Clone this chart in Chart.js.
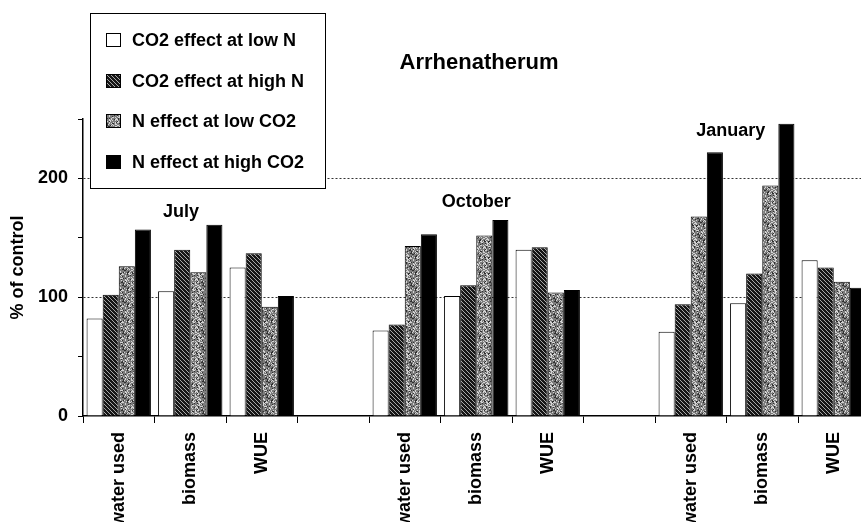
<!DOCTYPE html>
<html>
<head>
<meta charset="utf-8">
<script src="https://cdn.jsdelivr.net/npm/chart.js@4"></script>
<style>
body{margin:0;background:#fff;overflow:hidden}
</style>
</head>
<body>
<canvas id="chart" width="875" height="522"></canvas>
<script>
// data
const categories = ['water used','biomass','WUE','','water used','biomass','WUE','','water used','biomass','WUE']
const co2LowN  = [82,105,125,null,72,101,140,null,71,95,131]
const co2HighN = [102,140,137,null,77,110,142,null,94,120,125]
const nLowCO2  = [126,121,92,null,143,152,104,null,168,194,113]
const nHighCO2 = [157,161,101,null,153,165,106,null,222,246,108]
const seriesNames = ['CO2 effect at low N','CO2 effect at high N','N effect at low CO2','N effect at high CO2']
const yTicks = [0,100,200]
const months = ['July','October','January']
const monthCat = [0.87,5,8.56]
const monthVal = [172,180,240]
const chartTitle = 'Arrhenatherum'

const fam = '"Liberation Sans", Arial, sans-serif'
const ctx = document.getElementById('chart').getContext('2d')

// hatched fill
function hatch(){
    let c = document.createElement('canvas'); c.width = 8; c.height = 8
    let g = c.getContext('2d')
    g.fillStyle = '#161616'; g.fillRect(0,0,8,8)
    g.strokeStyle = '#a8a8a8'; g.lineWidth = 1
    for(let k = -8; k <= 8; k += 4){
        g.beginPath(); g.moveTo(k,0); g.lineTo(k+8,8); g.stroke()
    }
    return ctx.createPattern(c,'repeat')
}
// speckled fill
function speckle(){
    let c = document.createElement('canvas'); c.width = 16; c.height = 16
    let g = c.getContext('2d')
    g.fillStyle = '#7c7c7c'; g.fillRect(0,0,16,16)
    for(let i = 0; i < 16; i++){
        for(let j = 0; j < 16; j++){
            let v = (((i*73856093) ^ (j*19349663)) >>> 0) % 11
            if(v < 2){ g.fillStyle = '#303030'; g.fillRect(i,j,1,1) }
            else if(v < 5){ g.fillStyle = '#d4d4d4'; g.fillRect(i,j,1,1) }
        }
    }
    return ctx.createPattern(c,'repeat')
}

const decor = {
    id: 'decor',
    afterDraw(chart){
        const g = chart.ctx, xs = chart.scales.x, ys = chart.scales.y
        g.save()
        g.fillStyle = '#000'; g.textAlign = 'center'; g.textBaseline = 'middle'
        g.font = 'bold 22px ' + fam
        g.fillText(chartTitle, 479, 63)
        g.font = 'bold 18px ' + fam
        months.forEach((m,i) => g.fillText(m, xs.getPixelForValue(monthCat[i]), ys.getPixelForValue(monthVal[i])))
        // legend box
        g.fillStyle = '#fff'; g.fillRect(90,13,235,175)
        g.strokeStyle = '#000'; g.lineWidth = 1; g.strokeRect(90.5,13.5,235,175)
        g.textAlign = 'left'
        chart.data.datasets.forEach((d,i) => {
            let y = Math.round(40 + i*40.7)
            g.fillStyle = d.backgroundColor; g.fillRect(106, y-7, 15, 14)
            g.strokeRect(106.5, y-6.5, 14, 13)
            g.fillStyle = '#000'; g.fillText(d.label, 132, y+1)
        })
        g.restore()
    }
}

new Chart(ctx, {
    type: 'bar',
    data: {
        labels: categories,
        datasets: [
            {label: seriesNames[0], data: co2LowN, backgroundColor: '#fff'},
            {label: seriesNames[1], data: co2HighN, backgroundColor: hatch()},
            {label: seriesNames[2], data: nLowCO2, backgroundColor: speckle()},
            {label: seriesNames[3], data: nHighCO2, backgroundColor: '#000'}
        ]
    },
    options: {
        responsive: false,
        animation: false,
        devicePixelRatio: 1,
        layout: {padding: {left: 0, right: 5.5, top: 119, bottom: 0}},
        datasets: {bar: {borderColor: '#000', borderWidth: 1, categoryPercentage: 0.9, barPercentage: 1}},
        plugins: {legend: {display: false}, tooltip: {enabled: false}},
        scales: {
            x: {
                grid: {display: true, drawOnChartArea: false, drawTicks: true, tickLength: 7, tickColor: '#000', offset: true},
                border: {color: '#000', width: 1.5},
                ticks: {color: '#000', font: {family: fam, size: 18, weight: 'bold'}, minRotation: 90, maxRotation: 90, autoSkip: false, padding: 9},
                afterFit(s){ s.height = 106 }
            },
            y: {
                min: 0, max: 250,
                ticks: {stepSize: 50, color: '#000', font: {family: fam, size: 18, weight: 'bold'}, padding: 10,
                    callback: v => yTicks.includes(v) ? v : ''},
                grid: {color: c => (c.tick && c.tick.value > 0 && yTicks.includes(c.tick.value)) ? '#333' : 'rgba(0,0,0,0)',
                    tickColor: '#000', tickLength: 5, lineWidth: 1},
                border: {color: '#000', width: 1.5, dash: [2,2]},
                title: {display: true, text: '% of control', color: '#000', font: {family: fam, size: 18, weight: 'bold'}, padding: {top: 7, bottom: 0}},
                afterFit(s){ s.width = 83 }
            }
        }
    },
    plugins: [decor]
})
</script>
</body>
</html>
